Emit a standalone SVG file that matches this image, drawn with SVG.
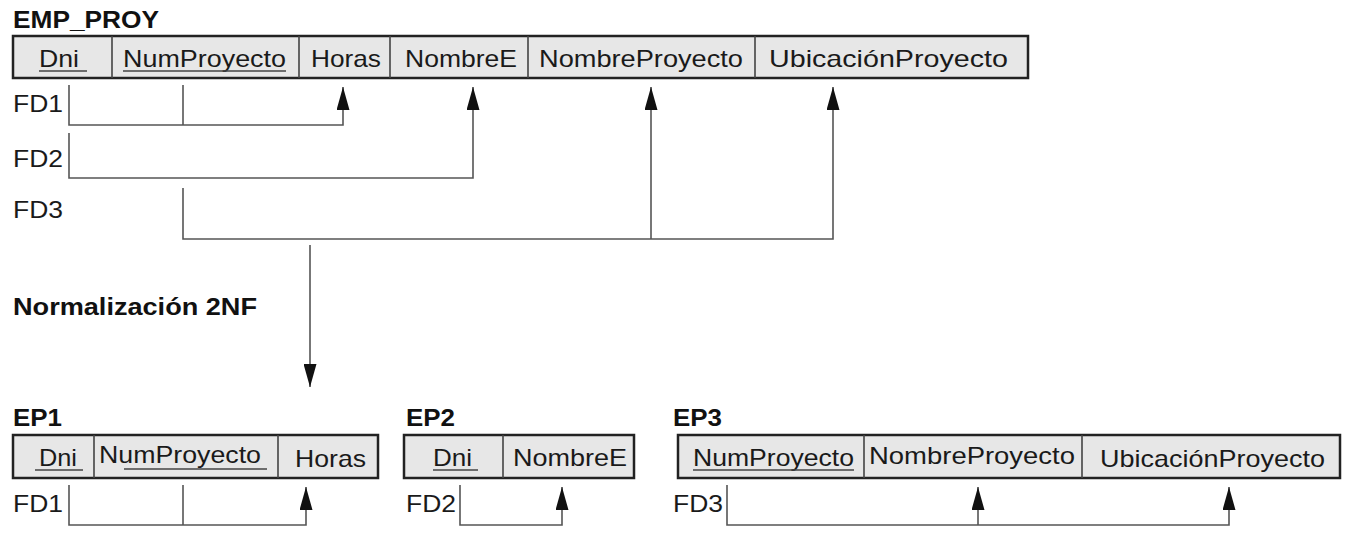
<svg xmlns="http://www.w3.org/2000/svg" width="1355" height="552" viewBox="0 0 1355 552">
<style>
  .t { font-family: "Liberation Sans", Arial, sans-serif; font-size: 24px; fill: #1a1a1a; }
  .b { font-family: "Liberation Sans", Arial, sans-serif; font-size: 23px; font-weight: bold; fill: #111; }
  .box { fill: #e7e7e7; stroke: #222; stroke-width: 2.5; }
  .div { stroke: #444; stroke-width: 1.6; }
  .ul { stroke: #444; stroke-width: 1.6; }
  .c { fill: none; stroke: #555; stroke-width: 1.6; }
  .ca { fill: none; stroke: #555; stroke-width: 1.6; marker-end: url(#ah); }
</style>
<defs>
  <marker id="ah" viewBox="0 0 23 13" refX="23" refY="6.5" markerWidth="23" markerHeight="13" markerUnits="userSpaceOnUse" orient="auto">
    <path d="M0,0 L23,6.5 L0,13 z" fill="#111"/>
  </marker>
</defs>
<rect width="1355" height="552" fill="#fff"/>

<g id="labels">
  <text class="b" x="13" y="28" textLength="146" lengthAdjust="spacingAndGlyphs">EMP_PROY</text>
  <text class="t" x="13" y="112" textLength="50" lengthAdjust="spacingAndGlyphs">FD1</text>
  <text class="t" x="13" y="167" textLength="50" lengthAdjust="spacingAndGlyphs">FD2</text>
  <text class="t" x="13" y="218" textLength="50" lengthAdjust="spacingAndGlyphs">FD3</text>
  <text class="b" x="13" y="315" textLength="244" lengthAdjust="spacingAndGlyphs">Normalización 2NF</text>
  <text class="b" x="13" y="426" textLength="49" lengthAdjust="spacingAndGlyphs">EP1</text>
  <text class="b" x="406" y="426" textLength="49" lengthAdjust="spacingAndGlyphs">EP2</text>
  <text class="b" x="673" y="426" textLength="49" lengthAdjust="spacingAndGlyphs">EP3</text>
  <text class="t" x="13" y="512" textLength="50" lengthAdjust="spacingAndGlyphs">FD1</text>
  <text class="t" x="406" y="512" textLength="50" lengthAdjust="spacingAndGlyphs">FD2</text>
  <text class="t" x="673" y="512" textLength="50" lengthAdjust="spacingAndGlyphs">FD3</text>
</g>

<g id="EMP_PROY">
  <rect class="box" x="13" y="36" width="1015" height="42"/>
  <line class="div" x1="112" y1="36" x2="112" y2="78"/>
  <line class="div" x1="299" y1="36" x2="299" y2="78"/>
  <line class="div" x1="390" y1="36" x2="390" y2="78"/>
  <line class="div" x1="528" y1="36" x2="528" y2="78"/>
  <line class="div" x1="755" y1="36" x2="755" y2="78"/>
  <text class="t" x="39" y="67" textLength="40" lengthAdjust="spacingAndGlyphs">Dni</text>
  <line class="ul" x1="39" y1="71" x2="87" y2="71"/>
  <text class="t" x="123" y="67" textLength="163" lengthAdjust="spacingAndGlyphs">NumProyecto</text>
  <line class="ul" x1="123" y1="71" x2="286" y2="71"/>
  <text class="t" x="311" y="67" textLength="70" lengthAdjust="spacingAndGlyphs">Horas</text>
  <text class="t" x="405" y="67" textLength="112" lengthAdjust="spacingAndGlyphs">NombreE</text>
  <text class="t" x="539" y="67" textLength="204" lengthAdjust="spacingAndGlyphs">NombreProyecto</text>
  <text class="t" x="769" y="67" textLength="239" lengthAdjust="spacingAndGlyphs">UbicaciónProyecto</text>
</g>

<g id="EP1">
  <rect class="box" x="13" y="435" width="365" height="43"/>
  <line class="div" x1="94" y1="435" x2="94" y2="478"/>
  <line class="div" x1="278" y1="435" x2="278" y2="478"/>
  <text class="t" x="39" y="466" textLength="38" lengthAdjust="spacingAndGlyphs">Dni</text>
  <line class="ul" x1="35" y1="470" x2="83" y2="470"/>
  <text class="t" x="99" y="463" textLength="162" lengthAdjust="spacingAndGlyphs">NumProyecto</text>
  <line class="ul" x1="124" y1="469" x2="267" y2="469"/>
  <text class="t" x="295" y="467" textLength="71" lengthAdjust="spacingAndGlyphs">Horas</text>
</g>

<g id="EP2">
  <rect class="box" x="404" y="435" width="230" height="43"/>
  <line class="div" x1="503" y1="435" x2="503" y2="478"/>
  <text class="t" x="433" y="466" textLength="39" lengthAdjust="spacingAndGlyphs">Dni</text>
  <line class="ul" x1="433" y1="470" x2="478" y2="470"/>
  <text class="t" x="513" y="466" textLength="114" lengthAdjust="spacingAndGlyphs">NombreE</text>
</g>

<g id="EP3">
  <rect class="box" x="678" y="435" width="662" height="43"/>
  <line class="div" x1="864" y1="435" x2="864" y2="478"/>
  <line class="div" x1="1082" y1="435" x2="1082" y2="478"/>
  <text class="t" x="693" y="466" textLength="161" lengthAdjust="spacingAndGlyphs">NumProyecto</text>
  <line class="ul" x1="693" y1="470" x2="854" y2="470"/>
  <text class="t" x="869" y="464" textLength="206" lengthAdjust="spacingAndGlyphs">NombreProyecto</text>
  <text class="t" x="1100" y="467" textLength="225" lengthAdjust="spacingAndGlyphs">UbicaciónProyecto</text>
</g>

<g id="connectors">
  <path class="ca" d="M69,85 V125 H343 V87"/>
  <path class="c" d="M183,85 V125"/>
  <path class="ca" d="M69,133 V178 H473 V87"/>
  <path class="ca" d="M183,188 V239 H833 V87"/>
  <path class="ca" d="M651,239 V87"/>
  <path class="ca" d="M310,245 V387"/>
  <path class="ca" d="M69,485 V525 H306 V487"/>
  <path class="c" d="M183,485 V525"/>
  <path class="ca" d="M460,485 V525 H562 V487"/>
  <path class="ca" d="M727,485 V525 H1229 V487"/>
  <path class="ca" d="M978,525 V487"/>
</g>
</svg>
